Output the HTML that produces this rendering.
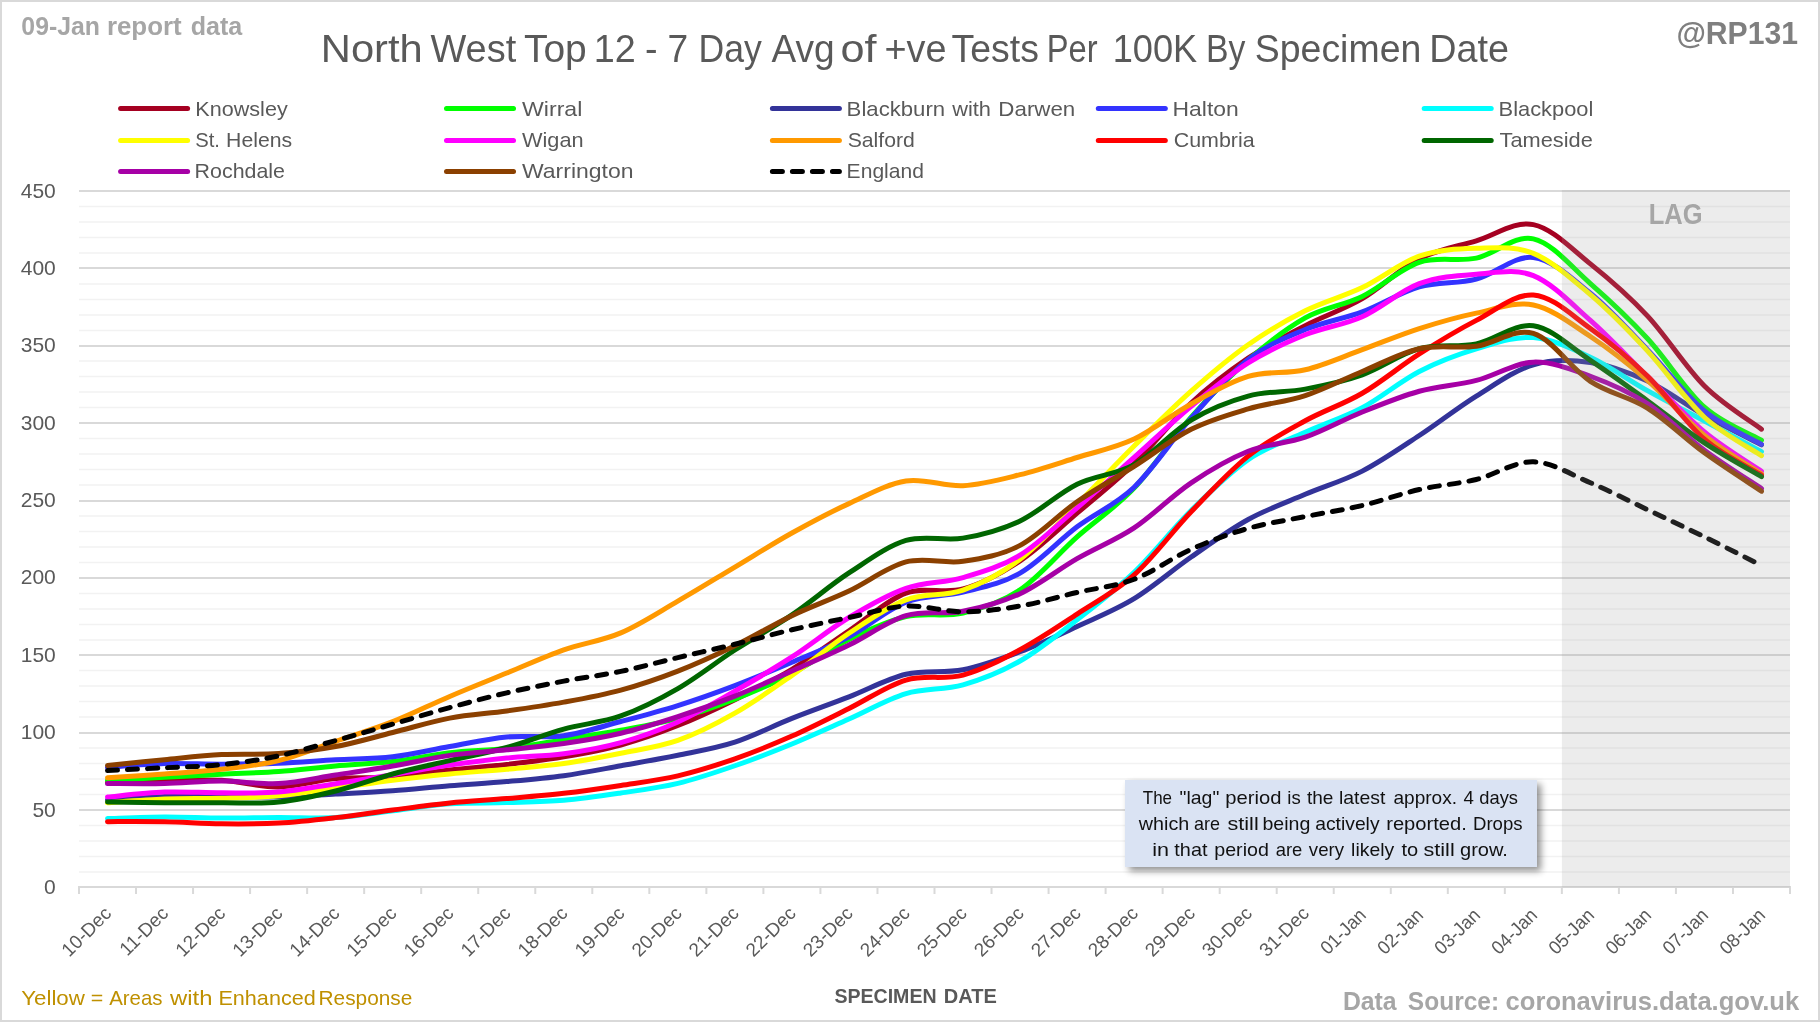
<!DOCTYPE html>
<html><head><meta charset="utf-8"><title>North West Top 12</title>
<style>html,body{margin:0;padding:0;background:#fff;}body{width:1820px;height:1022px;overflow:hidden;font-family:"Liberation Sans",sans-serif;}svg{display:block;}text{font-family:"Liberation Sans",sans-serif;}</style>
</head><body>
<svg style="will-change:transform" width="1820" height="1022" viewBox="0 0 1820 1022">
<defs><filter id="sh" x="-10%" y="-30%" width="125%" height="170%"><feGaussianBlur in="SourceAlpha" stdDeviation="3.8"/><feOffset dx="4" dy="4" result="o"/><feComponentTransfer><feFuncA type="linear" slope="0.43"/></feComponentTransfer><feMerge><feMergeNode/><feMergeNode in="SourceGraphic"/></feMerge></filter></defs>
<rect x="0" y="0" width="1820" height="1022" fill="#D9D9D9"/>
<rect x="2" y="2" width="1816" height="1018" fill="#FFFFFF"/>
<line x1="79.0" y1="872.00" x2="1790.0" y2="872.00" stroke="#F2F2F2" stroke-width="1.5"/>
<line x1="79.0" y1="856.50" x2="1790.0" y2="856.50" stroke="#F2F2F2" stroke-width="1.5"/>
<line x1="79.0" y1="841.00" x2="1790.0" y2="841.00" stroke="#F2F2F2" stroke-width="1.5"/>
<line x1="79.0" y1="825.50" x2="1790.0" y2="825.50" stroke="#F2F2F2" stroke-width="1.5"/>
<line x1="79.0" y1="794.50" x2="1790.0" y2="794.50" stroke="#F2F2F2" stroke-width="1.5"/>
<line x1="79.0" y1="779.00" x2="1790.0" y2="779.00" stroke="#F2F2F2" stroke-width="1.5"/>
<line x1="79.0" y1="763.50" x2="1790.0" y2="763.50" stroke="#F2F2F2" stroke-width="1.5"/>
<line x1="79.0" y1="748.00" x2="1790.0" y2="748.00" stroke="#F2F2F2" stroke-width="1.5"/>
<line x1="79.0" y1="717.00" x2="1790.0" y2="717.00" stroke="#F2F2F2" stroke-width="1.5"/>
<line x1="79.0" y1="701.50" x2="1790.0" y2="701.50" stroke="#F2F2F2" stroke-width="1.5"/>
<line x1="79.0" y1="686.00" x2="1790.0" y2="686.00" stroke="#F2F2F2" stroke-width="1.5"/>
<line x1="79.0" y1="670.50" x2="1790.0" y2="670.50" stroke="#F2F2F2" stroke-width="1.5"/>
<line x1="79.0" y1="640.00" x2="1790.0" y2="640.00" stroke="#F2F2F2" stroke-width="1.5"/>
<line x1="79.0" y1="624.50" x2="1790.0" y2="624.50" stroke="#F2F2F2" stroke-width="1.5"/>
<line x1="79.0" y1="609.00" x2="1790.0" y2="609.00" stroke="#F2F2F2" stroke-width="1.5"/>
<line x1="79.0" y1="593.50" x2="1790.0" y2="593.50" stroke="#F2F2F2" stroke-width="1.5"/>
<line x1="79.0" y1="562.50" x2="1790.0" y2="562.50" stroke="#F2F2F2" stroke-width="1.5"/>
<line x1="79.0" y1="547.00" x2="1790.0" y2="547.00" stroke="#F2F2F2" stroke-width="1.5"/>
<line x1="79.0" y1="531.50" x2="1790.0" y2="531.50" stroke="#F2F2F2" stroke-width="1.5"/>
<line x1="79.0" y1="516.00" x2="1790.0" y2="516.00" stroke="#F2F2F2" stroke-width="1.5"/>
<line x1="79.0" y1="485.00" x2="1790.0" y2="485.00" stroke="#F2F2F2" stroke-width="1.5"/>
<line x1="79.0" y1="469.50" x2="1790.0" y2="469.50" stroke="#F2F2F2" stroke-width="1.5"/>
<line x1="79.0" y1="454.00" x2="1790.0" y2="454.00" stroke="#F2F2F2" stroke-width="1.5"/>
<line x1="79.0" y1="438.50" x2="1790.0" y2="438.50" stroke="#F2F2F2" stroke-width="1.5"/>
<line x1="79.0" y1="407.50" x2="1790.0" y2="407.50" stroke="#F2F2F2" stroke-width="1.5"/>
<line x1="79.0" y1="392.00" x2="1790.0" y2="392.00" stroke="#F2F2F2" stroke-width="1.5"/>
<line x1="79.0" y1="376.50" x2="1790.0" y2="376.50" stroke="#F2F2F2" stroke-width="1.5"/>
<line x1="79.0" y1="361.00" x2="1790.0" y2="361.00" stroke="#F2F2F2" stroke-width="1.5"/>
<line x1="79.0" y1="330.50" x2="1790.0" y2="330.50" stroke="#F2F2F2" stroke-width="1.5"/>
<line x1="79.0" y1="315.00" x2="1790.0" y2="315.00" stroke="#F2F2F2" stroke-width="1.5"/>
<line x1="79.0" y1="299.50" x2="1790.0" y2="299.50" stroke="#F2F2F2" stroke-width="1.5"/>
<line x1="79.0" y1="284.00" x2="1790.0" y2="284.00" stroke="#F2F2F2" stroke-width="1.5"/>
<line x1="79.0" y1="253.00" x2="1790.0" y2="253.00" stroke="#F2F2F2" stroke-width="1.5"/>
<line x1="79.0" y1="237.50" x2="1790.0" y2="237.50" stroke="#F2F2F2" stroke-width="1.5"/>
<line x1="79.0" y1="222.00" x2="1790.0" y2="222.00" stroke="#F2F2F2" stroke-width="1.5"/>
<line x1="79.0" y1="206.50" x2="1790.0" y2="206.50" stroke="#F2F2F2" stroke-width="1.5"/>
<line x1="79.0" y1="810.00" x2="1790.0" y2="810.00" stroke="#D9D9D9" stroke-width="2"/>
<line x1="79.0" y1="733.00" x2="1790.0" y2="733.00" stroke="#D9D9D9" stroke-width="2"/>
<line x1="79.0" y1="655.00" x2="1790.0" y2="655.00" stroke="#D9D9D9" stroke-width="2"/>
<line x1="79.0" y1="578.00" x2="1790.0" y2="578.00" stroke="#D9D9D9" stroke-width="2"/>
<line x1="79.0" y1="501.00" x2="1790.0" y2="501.00" stroke="#D9D9D9" stroke-width="2"/>
<line x1="79.0" y1="423.00" x2="1790.0" y2="423.00" stroke="#D9D9D9" stroke-width="2"/>
<line x1="79.0" y1="346.00" x2="1790.0" y2="346.00" stroke="#D9D9D9" stroke-width="2"/>
<line x1="79.0" y1="268.00" x2="1790.0" y2="268.00" stroke="#D9D9D9" stroke-width="2"/>
<line x1="79.0" y1="191.00" x2="1790.0" y2="191.00" stroke="#D9D9D9" stroke-width="2"/>
<line x1="79.0" y1="887.00" x2="1791.0" y2="887.00" stroke="#D9D9D9" stroke-width="2"/>
<line x1="79.00" y1="886.00" x2="79.00" y2="894.00" stroke="#D9D9D9" stroke-width="2"/>
<line x1="136.03" y1="886.00" x2="136.03" y2="894.00" stroke="#D9D9D9" stroke-width="2"/>
<line x1="193.07" y1="886.00" x2="193.07" y2="894.00" stroke="#D9D9D9" stroke-width="2"/>
<line x1="250.10" y1="886.00" x2="250.10" y2="894.00" stroke="#D9D9D9" stroke-width="2"/>
<line x1="307.13" y1="886.00" x2="307.13" y2="894.00" stroke="#D9D9D9" stroke-width="2"/>
<line x1="364.17" y1="886.00" x2="364.17" y2="894.00" stroke="#D9D9D9" stroke-width="2"/>
<line x1="421.20" y1="886.00" x2="421.20" y2="894.00" stroke="#D9D9D9" stroke-width="2"/>
<line x1="478.23" y1="886.00" x2="478.23" y2="894.00" stroke="#D9D9D9" stroke-width="2"/>
<line x1="535.27" y1="886.00" x2="535.27" y2="894.00" stroke="#D9D9D9" stroke-width="2"/>
<line x1="592.30" y1="886.00" x2="592.30" y2="894.00" stroke="#D9D9D9" stroke-width="2"/>
<line x1="649.33" y1="886.00" x2="649.33" y2="894.00" stroke="#D9D9D9" stroke-width="2"/>
<line x1="706.37" y1="886.00" x2="706.37" y2="894.00" stroke="#D9D9D9" stroke-width="2"/>
<line x1="763.40" y1="886.00" x2="763.40" y2="894.00" stroke="#D9D9D9" stroke-width="2"/>
<line x1="820.43" y1="886.00" x2="820.43" y2="894.00" stroke="#D9D9D9" stroke-width="2"/>
<line x1="877.47" y1="886.00" x2="877.47" y2="894.00" stroke="#D9D9D9" stroke-width="2"/>
<line x1="934.50" y1="886.00" x2="934.50" y2="894.00" stroke="#D9D9D9" stroke-width="2"/>
<line x1="991.53" y1="886.00" x2="991.53" y2="894.00" stroke="#D9D9D9" stroke-width="2"/>
<line x1="1048.57" y1="886.00" x2="1048.57" y2="894.00" stroke="#D9D9D9" stroke-width="2"/>
<line x1="1105.60" y1="886.00" x2="1105.60" y2="894.00" stroke="#D9D9D9" stroke-width="2"/>
<line x1="1162.63" y1="886.00" x2="1162.63" y2="894.00" stroke="#D9D9D9" stroke-width="2"/>
<line x1="1219.67" y1="886.00" x2="1219.67" y2="894.00" stroke="#D9D9D9" stroke-width="2"/>
<line x1="1276.70" y1="886.00" x2="1276.70" y2="894.00" stroke="#D9D9D9" stroke-width="2"/>
<line x1="1333.73" y1="886.00" x2="1333.73" y2="894.00" stroke="#D9D9D9" stroke-width="2"/>
<line x1="1390.77" y1="886.00" x2="1390.77" y2="894.00" stroke="#D9D9D9" stroke-width="2"/>
<line x1="1447.80" y1="886.00" x2="1447.80" y2="894.00" stroke="#D9D9D9" stroke-width="2"/>
<line x1="1504.83" y1="886.00" x2="1504.83" y2="894.00" stroke="#D9D9D9" stroke-width="2"/>
<line x1="1561.87" y1="886.00" x2="1561.87" y2="894.00" stroke="#D9D9D9" stroke-width="2"/>
<line x1="1618.90" y1="886.00" x2="1618.90" y2="894.00" stroke="#D9D9D9" stroke-width="2"/>
<line x1="1675.93" y1="886.00" x2="1675.93" y2="894.00" stroke="#D9D9D9" stroke-width="2"/>
<line x1="1732.97" y1="886.00" x2="1732.97" y2="894.00" stroke="#D9D9D9" stroke-width="2"/>
<line x1="1790.00" y1="886.00" x2="1790.00" y2="894.00" stroke="#D9D9D9" stroke-width="2"/>
<text x="55.8" y="894.00" text-anchor="end" font-size="21" fill="#595959">0</text>
<text x="55.8" y="816.62" text-anchor="end" font-size="21" fill="#595959">50</text>
<text x="55.8" y="739.24" text-anchor="end" font-size="21" fill="#595959">100</text>
<text x="55.8" y="661.87" text-anchor="end" font-size="21" fill="#595959">150</text>
<text x="55.8" y="584.49" text-anchor="end" font-size="21" fill="#595959">200</text>
<text x="55.8" y="507.11" text-anchor="end" font-size="21" fill="#595959">250</text>
<text x="55.8" y="429.73" text-anchor="end" font-size="21" fill="#595959">300</text>
<text x="55.8" y="352.36" text-anchor="end" font-size="21" fill="#595959">350</text>
<text x="55.8" y="274.98" text-anchor="end" font-size="21" fill="#595959">400</text>
<text x="55.8" y="197.60" text-anchor="end" font-size="21" fill="#595959">450</text>
<path d="M107.52,782.32 C117.02,782.04 145.54,780.95 164.55,780.62 C183.56,780.28 202.57,779.25 221.58,780.31 C240.59,781.37 259.61,787.25 278.62,786.96 C297.63,786.68 316.64,780.28 335.65,778.61 C354.66,776.93 373.67,778.35 392.68,776.90 C411.69,775.46 430.71,772.00 449.72,769.94 C468.73,767.88 487.74,766.72 506.75,764.52 C525.76,762.33 544.77,760.04 563.78,756.79 C582.79,753.54 601.81,750.23 620.82,745.02 C639.83,739.81 658.84,733.08 677.85,725.53 C696.86,717.97 715.87,709.04 734.88,699.68 C753.89,690.32 772.91,680.83 791.92,669.35 C810.93,657.87 829.94,643.53 848.95,630.82 C867.96,618.10 886.97,600.02 905.98,593.05 C924.99,586.09 944.01,594.40 963.02,589.03 C982.03,583.67 1001.04,573.50 1020.05,560.87 C1039.06,548.23 1058.07,529.40 1077.08,513.20 C1096.09,497.00 1115.11,482.04 1134.12,463.68 C1153.13,445.31 1172.14,420.61 1191.15,403.02 C1210.16,385.42 1229.17,371.03 1248.18,358.14 C1267.19,345.24 1286.21,335.54 1305.22,325.64 C1324.23,315.73 1343.24,309.85 1362.25,298.71 C1381.26,287.57 1400.27,268.43 1419.28,258.78 C1438.29,249.14 1457.31,246.53 1476.32,240.83 C1495.33,235.13 1514.34,220.74 1533.35,224.58 C1552.36,228.43 1571.37,248.67 1590.38,263.89 C1609.39,279.11 1628.41,295.54 1647.42,315.89 C1666.43,336.24 1685.44,367.11 1704.45,385.99 C1723.46,404.87 1751.98,421.97 1761.48,429.17" fill="none" stroke="#A50021" stroke-width="5" stroke-linecap="round" stroke-linejoin="round"/>
<path d="M107.52,780.31 C117.02,779.82 145.54,778.37 164.55,777.37 C183.56,776.36 202.57,775.25 221.58,774.27 C240.59,773.29 259.61,772.88 278.62,771.49 C297.63,770.10 316.64,767.57 335.65,765.92 C354.66,764.27 373.67,763.78 392.68,761.58 C411.69,759.39 430.71,754.96 449.72,752.76 C468.73,750.57 487.74,750.62 506.75,748.43 C525.76,746.24 544.77,742.63 563.78,739.61 C582.79,736.59 601.81,733.86 620.82,730.32 C639.83,726.79 658.84,723.62 677.85,718.41 C696.86,713.20 715.87,706.52 734.88,699.06 C753.89,691.61 772.91,683.61 791.92,673.68 C810.93,663.75 829.94,649.00 848.95,639.48 C867.96,629.96 886.97,620.99 905.98,616.58 C924.99,612.17 944.01,617.48 963.02,613.02 C982.03,608.56 1001.04,602.50 1020.05,589.81 C1039.06,577.12 1058.07,553.82 1077.08,536.88 C1096.09,519.93 1115.11,508.09 1134.12,488.13 C1153.13,468.17 1172.14,438.45 1191.15,417.10 C1210.16,395.74 1229.17,376.53 1248.18,359.99 C1267.19,343.46 1286.21,328.50 1305.22,317.90 C1324.23,307.30 1343.24,305.65 1362.25,296.39 C1381.26,287.13 1400.27,268.71 1419.28,262.34 C1438.29,255.97 1457.31,262.08 1476.32,258.16 C1495.33,254.24 1514.34,234.59 1533.35,238.82 C1552.36,243.05 1571.37,266.93 1590.38,283.54 C1609.39,300.15 1628.41,317.87 1647.42,338.48 C1666.43,359.09 1685.44,390.25 1704.45,407.19 C1723.46,424.14 1751.98,434.66 1761.48,440.16" fill="none" stroke="#00FF00" stroke-width="5" stroke-linecap="round" stroke-linejoin="round"/>
<path d="M107.52,799.96 C117.02,799.40 145.54,797.25 164.55,796.56 C183.56,795.86 202.57,795.71 221.58,795.78 C240.59,795.86 259.61,797.31 278.62,797.02 C297.63,796.74 316.64,795.14 335.65,794.08 C354.66,793.02 373.67,792.07 392.68,790.68 C411.69,789.28 430.71,787.25 449.72,785.73 C468.73,784.20 487.74,783.22 506.75,781.55 C525.76,779.87 544.77,778.30 563.78,775.67 C582.79,773.04 601.81,769.17 620.82,765.76 C639.83,762.36 658.84,759.19 677.85,755.24 C696.86,751.29 715.87,748.22 734.88,742.08 C753.89,735.95 772.91,725.94 791.92,718.41 C810.93,710.88 829.94,704.25 848.95,696.90 C867.96,689.55 886.97,678.82 905.98,674.30 C924.99,669.79 944.01,673.58 963.02,669.81 C982.03,666.05 1001.04,658.93 1020.05,651.71 C1039.06,644.49 1058.07,635.33 1077.08,626.48 C1096.09,617.64 1115.11,610.21 1134.12,598.63 C1153.13,587.05 1172.14,570.18 1191.15,557.00 C1210.16,543.82 1229.17,529.99 1248.18,519.55 C1267.19,509.10 1286.21,502.39 1305.22,494.32 C1324.23,486.25 1343.24,480.91 1362.25,471.11 C1381.26,461.31 1400.27,448.02 1419.28,435.51 C1438.29,423.00 1457.31,407.84 1476.32,396.05 C1495.33,384.26 1514.34,370.39 1533.35,364.79 C1552.36,359.19 1571.37,359.76 1590.38,362.47 C1609.39,365.18 1628.41,372.22 1647.42,381.04 C1666.43,389.86 1685.44,404.77 1704.45,415.40 C1723.46,426.02 1751.98,439.90 1761.48,444.80" fill="none" stroke="#333399" stroke-width="5" stroke-linecap="round" stroke-linejoin="round"/>
<path d="M107.52,767.46 C117.02,766.82 145.54,764.14 164.55,763.60 C183.56,763.05 202.57,764.29 221.58,764.21 C240.59,764.14 259.61,763.88 278.62,763.13 C297.63,762.38 316.64,760.78 335.65,759.73 C354.66,758.67 373.67,758.98 392.68,756.79 C411.69,754.59 430.71,749.87 449.72,746.57 C468.73,743.27 487.74,738.78 506.75,736.98 C525.76,735.17 544.77,738.32 563.78,735.74 C582.79,733.16 601.81,726.53 620.82,721.50 C639.83,716.47 658.84,711.55 677.85,705.56 C696.86,699.58 715.87,692.82 734.88,685.60 C753.89,678.38 772.91,670.36 791.92,662.23 C810.93,654.11 829.94,646.86 848.95,636.85 C867.96,626.84 886.97,609.64 905.98,602.19 C924.99,594.73 944.01,596.98 963.02,592.13 C982.03,587.28 1001.04,583.98 1020.05,573.09 C1039.06,562.21 1058.07,541.13 1077.08,526.82 C1096.09,512.50 1115.11,505.31 1134.12,487.20 C1153.13,469.10 1172.14,439.49 1191.15,418.18 C1210.16,396.88 1229.17,374.15 1248.18,359.37 C1267.19,344.59 1286.21,337.42 1305.22,329.51 C1324.23,321.59 1343.24,318.96 1362.25,311.86 C1381.26,304.77 1400.27,292.42 1419.28,286.95 C1438.29,281.48 1457.31,283.96 1476.32,279.06 C1495.33,274.16 1514.34,255.17 1533.35,257.54 C1552.36,259.92 1571.37,277.95 1590.38,293.29 C1609.39,308.64 1628.41,330.02 1647.42,349.62 C1666.43,369.23 1685.44,395.12 1704.45,410.91 C1723.46,426.69 1751.98,438.76 1761.48,444.33" fill="none" stroke="#3333FF" stroke-width="5" stroke-linecap="round" stroke-linejoin="round"/>
<path d="M107.52,818.53 C117.02,818.28 145.54,817.06 164.55,816.99 C183.56,816.91 202.57,817.99 221.58,818.07 C240.59,818.15 259.61,817.53 278.62,817.45 C297.63,817.37 316.64,818.71 335.65,817.61 C354.66,816.50 373.67,813.09 392.68,810.80 C411.69,808.50 430.71,805.20 449.72,803.83 C468.73,802.46 487.74,803.19 506.75,802.59 C525.76,802.00 544.77,801.87 563.78,800.27 C582.79,798.67 601.81,795.81 620.82,793.00 C639.83,790.19 658.84,787.94 677.85,783.40 C696.86,778.86 715.87,772.34 734.88,765.76 C753.89,759.19 772.91,751.73 791.92,743.94 C810.93,736.15 829.94,727.41 848.95,719.03 C867.96,710.64 886.97,699.35 905.98,693.65 C924.99,687.95 944.01,690.27 963.02,684.82 C982.03,679.38 1001.04,671.85 1020.05,660.99 C1039.06,650.13 1058.07,634.45 1077.08,619.67 C1096.09,604.89 1115.11,590.50 1134.12,572.32 C1153.13,554.13 1172.14,529.35 1191.15,510.57 C1210.16,491.79 1229.17,472.71 1248.18,459.66 C1267.19,446.60 1286.21,440.93 1305.22,432.26 C1324.23,423.60 1343.24,417.79 1362.25,407.66 C1381.26,397.52 1400.27,381.25 1419.28,371.44 C1438.29,361.64 1457.31,354.50 1476.32,348.85 C1495.33,343.20 1514.34,336.16 1533.35,337.55 C1552.36,338.95 1571.37,348.36 1590.38,357.21 C1609.39,366.05 1628.41,380.01 1647.42,390.63 C1666.43,401.26 1685.44,410.80 1704.45,420.97 C1723.46,431.13 1751.98,446.50 1761.48,451.61" fill="none" stroke="#00FFFF" stroke-width="5" stroke-linecap="round" stroke-linejoin="round"/>
<path d="M107.52,802.75 C117.02,802.13 145.54,799.78 164.55,799.03 C183.56,798.29 202.57,798.80 221.58,798.26 C240.59,797.72 259.61,797.44 278.62,795.78 C297.63,794.13 316.64,790.96 335.65,788.36 C354.66,785.75 373.67,782.55 392.68,780.15 C411.69,777.76 430.71,775.80 449.72,773.96 C468.73,772.13 487.74,770.92 506.75,769.17 C525.76,767.41 544.77,766.10 563.78,763.44 C582.79,760.78 601.81,757.07 620.82,753.23 C639.83,749.38 658.84,747.06 677.85,740.38 C696.86,733.70 715.87,723.98 734.88,713.15 C753.89,702.31 772.91,688.69 791.92,675.38 C810.93,662.08 829.94,645.88 848.95,633.29 C867.96,620.70 886.97,607.06 905.98,599.86 C924.99,592.67 944.01,596.87 963.02,590.11 C982.03,583.36 1001.04,573.61 1020.05,559.32 C1039.06,545.03 1058.07,523.26 1077.08,504.38 C1096.09,485.50 1115.11,464.92 1134.12,446.04 C1153.13,427.16 1172.14,407.99 1191.15,391.10 C1210.16,374.20 1229.17,358.06 1248.18,344.67 C1267.19,331.29 1286.21,320.30 1305.22,310.78 C1324.23,301.26 1343.24,296.67 1362.25,287.57 C1381.26,278.46 1400.27,262.70 1419.28,256.15 C1438.29,249.60 1457.31,248.72 1476.32,248.26 C1495.33,247.80 1514.34,245.63 1533.35,253.37 C1552.36,261.10 1571.37,278.44 1590.38,294.69 C1609.39,310.94 1628.41,330.43 1647.42,350.86 C1666.43,371.29 1685.44,399.79 1704.45,417.25 C1723.46,434.71 1751.98,449.24 1761.48,455.63" fill="none" stroke="#FFFF00" stroke-width="5" stroke-linecap="round" stroke-linejoin="round"/>
<path d="M107.52,797.02 C117.02,796.20 145.54,792.77 164.55,792.07 C183.56,791.37 202.57,792.84 221.58,792.84 C240.59,792.84 259.61,793.59 278.62,792.07 C297.63,790.55 316.64,786.60 335.65,783.71 C354.66,780.83 373.67,777.83 392.68,774.74 C411.69,771.64 430.71,767.93 449.72,765.14 C468.73,762.36 487.74,759.93 506.75,758.02 C525.76,756.12 544.77,756.27 563.78,753.69 C582.79,751.11 601.81,747.84 620.82,742.55 C639.83,737.26 658.84,730.53 677.85,721.97 C696.86,713.40 715.87,702.00 734.88,691.17 C753.89,680.34 772.91,669.25 791.92,656.97 C810.93,644.69 829.94,628.93 848.95,617.51 C867.96,606.08 886.97,595.07 905.98,588.41 C924.99,581.76 944.01,583.12 963.02,577.58 C982.03,572.03 1001.04,566.75 1020.05,555.14 C1039.06,543.53 1058.07,524.21 1077.08,507.94 C1096.09,491.66 1115.11,474.41 1134.12,457.49 C1153.13,440.57 1172.14,422.18 1191.15,406.42 C1210.16,390.66 1229.17,374.88 1248.18,362.93 C1267.19,350.99 1286.21,342.48 1305.22,334.77 C1324.23,327.06 1343.24,325.17 1362.25,316.66 C1381.26,308.15 1400.27,290.77 1419.28,283.70 C1438.29,276.63 1457.31,275.60 1476.32,274.26 C1495.33,272.92 1514.34,267.97 1533.35,275.65 C1552.36,283.34 1571.37,303.58 1590.38,320.38 C1609.39,337.17 1628.41,357.80 1647.42,376.40 C1666.43,394.99 1685.44,416.14 1704.45,431.95 C1723.46,447.77 1751.98,464.71 1761.48,471.26" fill="none" stroke="#FF00FF" stroke-width="5" stroke-linecap="round" stroke-linejoin="round"/>
<path d="M107.52,777.83 C117.02,777.19 145.54,775.38 164.55,773.96 C183.56,772.55 202.57,771.57 221.58,769.32 C240.59,767.08 259.61,765.17 278.62,760.50 C297.63,755.83 316.64,747.78 335.65,741.31 C354.66,734.84 373.67,729.14 392.68,721.66 C411.69,714.18 430.71,704.53 449.72,696.43 C468.73,688.33 487.74,680.83 506.75,673.06 C525.76,665.30 544.77,656.56 563.78,649.85 C582.79,643.14 601.81,640.95 620.82,632.83 C639.83,624.70 658.84,612.06 677.85,601.10 C696.86,590.14 715.87,578.40 734.88,567.06 C753.89,555.71 772.91,543.58 791.92,533.01 C810.93,522.43 829.94,512.27 848.95,503.61 C867.96,494.94 886.97,484.00 905.98,481.01 C924.99,478.02 944.01,486.71 963.02,485.65 C982.03,484.60 1001.04,479.36 1020.05,474.67 C1039.06,469.97 1058.07,463.42 1077.08,457.49 C1096.09,451.56 1115.11,448.00 1134.12,439.07 C1153.13,430.15 1172.14,414.39 1191.15,403.94 C1210.16,393.50 1229.17,382.10 1248.18,376.40 C1267.19,370.70 1286.21,374.20 1305.22,369.74 C1324.23,365.28 1343.24,356.49 1362.25,349.62 C1381.26,342.76 1400.27,334.66 1419.28,328.58 C1438.29,322.49 1457.31,317.02 1476.32,313.10 C1495.33,309.18 1514.34,301.16 1533.35,305.05 C1552.36,308.95 1571.37,323.91 1590.38,336.47 C1609.39,349.03 1628.41,363.91 1647.42,380.42 C1666.43,396.93 1685.44,419.94 1704.45,435.51 C1723.46,451.09 1751.98,467.50 1761.48,473.89" fill="none" stroke="#FF9900" stroke-width="5" stroke-linecap="round" stroke-linejoin="round"/>
<path d="M107.52,821.63 C117.02,821.65 145.54,821.42 164.55,821.78 C183.56,822.14 202.57,823.59 221.58,823.80 C240.59,824.00 259.61,824.05 278.62,823.02 C297.63,821.99 316.64,819.77 335.65,817.61 C354.66,815.44 373.67,812.45 392.68,810.02 C411.69,807.60 430.71,804.97 449.72,803.06 C468.73,801.15 487.74,800.20 506.75,798.57 C525.76,796.95 544.77,795.50 563.78,793.31 C582.79,791.12 601.81,788.33 620.82,785.42 C639.83,782.50 658.84,780.26 677.85,775.82 C696.86,771.38 715.87,765.43 734.88,758.80 C753.89,752.17 772.91,744.43 791.92,736.05 C810.93,727.67 829.94,717.84 848.95,708.50 C867.96,699.17 886.97,685.60 905.98,680.03 C924.99,674.46 944.01,680.13 963.02,675.08 C982.03,670.02 1001.04,659.86 1020.05,649.70 C1039.06,639.53 1058.07,626.56 1077.08,614.10 C1096.09,601.64 1115.11,592.00 1134.12,574.95 C1153.13,557.90 1172.14,531.62 1191.15,511.81 C1210.16,492.00 1229.17,471.26 1248.18,456.10 C1267.19,440.93 1286.21,431.28 1305.22,420.81 C1324.23,410.34 1343.24,404.41 1362.25,393.27 C1381.26,382.12 1400.27,366.11 1419.28,353.96 C1438.29,341.81 1457.31,330.20 1476.32,320.38 C1495.33,310.55 1514.34,293.65 1533.35,295.00 C1552.36,296.34 1571.37,314.93 1590.38,328.42 C1609.39,341.91 1628.41,357.47 1647.42,375.93 C1666.43,394.40 1685.44,422.69 1704.45,439.23 C1723.46,455.76 1751.98,469.15 1761.48,475.13" fill="none" stroke="#FF0000" stroke-width="5" stroke-linecap="round" stroke-linejoin="round"/>
<path d="M107.52,801.97 C117.02,802.10 145.54,802.62 164.55,802.75 C183.56,802.88 202.57,802.88 221.58,802.75 C240.59,802.62 259.61,803.94 278.62,801.97 C297.63,800.01 316.64,795.66 335.65,790.99 C354.66,786.32 373.67,779.02 392.68,773.96 C411.69,768.91 430.71,765.07 449.72,760.66 C468.73,756.24 487.74,752.76 506.75,747.50 C525.76,742.24 544.77,734.35 563.78,729.09 C582.79,723.82 601.81,722.69 620.82,715.93 C639.83,709.17 658.84,699.53 677.85,688.54 C696.86,677.55 715.87,662.28 734.88,650.00 C753.89,637.73 772.91,627.72 791.92,614.88 C810.93,602.03 829.94,585.34 848.95,572.94 C867.96,560.53 886.97,546.24 905.98,540.44 C924.99,534.63 944.01,541.37 963.02,538.12 C982.03,534.87 1001.04,529.91 1020.05,520.94 C1039.06,511.96 1058.07,493.65 1077.08,484.26 C1096.09,474.87 1115.11,475.31 1134.12,464.61 C1153.13,453.90 1172.14,431.46 1191.15,420.04 C1210.16,408.61 1229.17,401.21 1248.18,396.05 C1267.19,390.89 1286.21,392.62 1305.22,389.09 C1324.23,385.55 1343.24,381.58 1362.25,374.85 C1381.26,368.12 1400.27,353.85 1419.28,348.70 C1438.29,343.54 1457.31,347.72 1476.32,343.90 C1495.33,340.08 1514.34,323.06 1533.35,325.79 C1552.36,328.53 1571.37,347.82 1590.38,360.30 C1609.39,372.79 1628.41,386.92 1647.42,400.69 C1666.43,414.47 1685.44,430.28 1704.45,442.94 C1723.46,455.61 1751.98,471.06 1761.48,476.68" fill="none" stroke="#006600" stroke-width="5" stroke-linecap="round" stroke-linejoin="round"/>
<path d="M107.52,783.56 C117.02,783.56 145.54,783.97 164.55,783.56 C183.56,783.15 202.57,781.08 221.58,781.08 C240.59,781.08 259.61,784.56 278.62,783.56 C297.63,782.55 316.64,777.96 335.65,775.05 C354.66,772.13 373.67,769.35 392.68,766.07 C411.69,762.80 430.71,758.10 449.72,755.39 C468.73,752.69 487.74,751.81 506.75,749.82 C525.76,747.84 544.77,746.24 563.78,743.48 C582.79,740.72 601.81,737.73 620.82,733.26 C639.83,728.80 658.84,722.89 677.85,716.70 C696.86,710.51 715.87,703.73 734.88,696.12 C753.89,688.51 772.91,679.56 791.92,671.05 C810.93,662.54 829.94,654.29 848.95,645.05 C867.96,635.82 886.97,621.27 905.98,615.65 C924.99,610.03 944.01,614.98 963.02,611.32 C982.03,607.65 1001.04,602.44 1020.05,593.67 C1039.06,584.90 1058.07,569.66 1077.08,558.70 C1096.09,547.74 1115.11,540.54 1134.12,527.90 C1153.13,515.26 1172.14,495.64 1191.15,482.87 C1210.16,470.10 1229.17,458.91 1248.18,451.30 C1267.19,443.69 1286.21,443.77 1305.22,437.22 C1324.23,430.66 1343.24,419.65 1362.25,411.99 C1381.26,404.33 1400.27,396.52 1419.28,391.25 C1438.29,385.99 1457.31,385.27 1476.32,380.42 C1495.33,375.57 1514.34,362.86 1533.35,362.16 C1552.36,361.46 1571.37,369.33 1590.38,376.24 C1609.39,383.15 1628.41,391.31 1647.42,403.63 C1666.43,415.96 1685.44,436.06 1704.45,450.22 C1723.46,464.38 1751.98,482.20 1761.48,488.59" fill="none" stroke="#A600A6" stroke-width="5" stroke-linecap="round" stroke-linejoin="round"/>
<path d="M107.52,765.61 C117.02,764.63 145.54,761.56 164.55,759.73 C183.56,757.90 202.57,755.65 221.58,754.62 C240.59,753.59 259.61,754.88 278.62,753.54 C297.63,752.20 316.64,750.08 335.65,746.57 C354.66,743.06 373.67,737.24 392.68,732.49 C411.69,727.74 430.71,721.68 449.72,718.10 C468.73,714.51 487.74,713.64 506.75,710.98 C525.76,708.32 544.77,705.64 563.78,702.16 C582.79,698.68 601.81,695.27 620.82,690.09 C639.83,684.90 658.84,678.45 677.85,671.05 C696.86,663.65 715.87,654.91 734.88,645.67 C753.89,636.44 772.91,624.75 791.92,615.65 C810.93,606.54 829.94,599.99 848.95,591.04 C867.96,582.09 886.97,566.90 905.98,561.95 C924.99,557.00 944.01,564.09 963.02,561.33 C982.03,558.57 1001.04,555.32 1020.05,545.39 C1039.06,535.46 1058.07,514.93 1077.08,501.75 C1096.09,488.57 1115.11,478.38 1134.12,466.31 C1153.13,454.24 1172.14,438.89 1191.15,429.32 C1210.16,419.75 1229.17,414.52 1248.18,408.90 C1267.19,403.27 1286.21,401.83 1305.22,395.59 C1324.23,389.35 1343.24,379.26 1362.25,371.44 C1381.26,363.63 1400.27,352.90 1419.28,348.70 C1438.29,344.49 1457.31,348.77 1476.32,346.22 C1495.33,343.67 1514.34,327.52 1533.35,333.38 C1552.36,339.23 1571.37,368.89 1590.38,381.35 C1609.39,393.81 1628.41,396.21 1647.42,408.12 C1666.43,420.04 1685.44,439.00 1704.45,452.85 C1723.46,466.70 1751.98,484.83 1761.48,491.23" fill="none" stroke="#8B4000" stroke-width="5" stroke-linecap="round" stroke-linejoin="round"/>
<path d="M107.52,770.56 C117.02,770.10 145.54,768.75 164.55,767.77 C183.56,766.79 202.57,766.66 221.58,764.68 C240.59,762.69 259.61,759.88 278.62,755.86 C297.63,751.83 316.64,745.82 335.65,740.54 C354.66,735.25 373.67,729.63 392.68,724.13 C411.69,718.64 430.71,712.78 449.72,707.57 C468.73,702.36 487.74,697.28 506.75,692.87 C525.76,688.46 544.77,684.70 563.78,681.11 C582.79,677.53 601.81,675.28 620.82,671.36 C639.83,667.44 658.84,662.10 677.85,657.59 C696.86,653.07 715.87,648.92 734.88,644.28 C753.89,639.64 772.91,634.19 791.92,629.73 C810.93,625.27 829.94,621.45 848.95,617.51 C867.96,613.56 886.97,607.01 905.98,606.05 C924.99,605.10 944.01,611.78 963.02,611.78 C982.03,611.78 1001.04,609.28 1020.05,606.05 C1039.06,602.83 1058.07,596.90 1077.08,592.44 C1096.09,587.97 1115.11,586.48 1134.12,579.28 C1153.13,572.09 1172.14,557.74 1191.15,549.26 C1210.16,540.77 1229.17,533.81 1248.18,528.37 C1267.19,522.92 1286.21,520.42 1305.22,516.61 C1324.23,512.79 1343.24,509.98 1362.25,505.46 C1381.26,500.95 1400.27,493.86 1419.28,489.52 C1438.29,485.19 1457.31,484.08 1476.32,479.46 C1495.33,474.85 1514.34,461.28 1533.35,461.82 C1552.36,462.36 1571.37,474.74 1590.38,482.71 C1609.39,490.68 1628.41,500.61 1647.42,509.64 C1666.43,518.67 1685.44,527.57 1704.45,536.88 C1723.46,546.19 1751.98,560.74 1761.48,565.51" fill="none" stroke="#000000" stroke-width="5" stroke-linecap="round" stroke-linejoin="round" stroke-dasharray="10 10.01"/>
<rect x="1561.87" y="190.00" width="228.13" height="697.40" fill="#A0A0A0" fill-opacity="0.2"/>
<text x="1648.8" y="223.5" font-size="28.6" font-weight="bold" fill="#A6A6A6" textLength="53.8" lengthAdjust="spacingAndGlyphs">LAG</text>
<rect x="1125" y="780" width="412" height="87" fill="#DAE3F3" filter="url(#sh)"/>
<line x1="120.6" y1="108.5" x2="187.6" y2="108.5" stroke="#A50021" stroke-width="5" stroke-linecap="round"/>
<line x1="446.5" y1="108.5" x2="513.5" y2="108.5" stroke="#00FF00" stroke-width="5" stroke-linecap="round"/>
<line x1="772.4" y1="108.5" x2="839.4" y2="108.5" stroke="#333399" stroke-width="5" stroke-linecap="round"/>
<line x1="1098.3" y1="108.5" x2="1165.3" y2="108.5" stroke="#3333FF" stroke-width="5" stroke-linecap="round"/>
<line x1="1424.2" y1="108.5" x2="1491.2" y2="108.5" stroke="#00FFFF" stroke-width="5" stroke-linecap="round"/>
<line x1="120.6" y1="140.5" x2="187.6" y2="140.5" stroke="#FFFF00" stroke-width="5" stroke-linecap="round"/>
<line x1="446.5" y1="140.5" x2="513.5" y2="140.5" stroke="#FF00FF" stroke-width="5" stroke-linecap="round"/>
<line x1="772.4" y1="140.5" x2="839.4" y2="140.5" stroke="#FF9900" stroke-width="5" stroke-linecap="round"/>
<line x1="1098.3" y1="140.5" x2="1165.3" y2="140.5" stroke="#FF0000" stroke-width="5" stroke-linecap="round"/>
<line x1="1424.2" y1="140.5" x2="1491.2" y2="140.5" stroke="#006600" stroke-width="5" stroke-linecap="round"/>
<line x1="120.6" y1="171.5" x2="187.6" y2="171.5" stroke="#A600A6" stroke-width="5" stroke-linecap="round"/>
<line x1="446.5" y1="171.5" x2="513.5" y2="171.5" stroke="#8B4000" stroke-width="5" stroke-linecap="round"/>
<line x1="772.4" y1="171.5" x2="839.4" y2="171.5" stroke="#000" stroke-width="5" stroke-linecap="round" stroke-dasharray="10 10.01"/>
<text transform="translate(112.52,914.50) rotate(-45)" text-anchor="end" font-size="19" fill="#595959">10-Dec</text>
<text transform="translate(169.55,914.50) rotate(-45)" text-anchor="end" font-size="19" fill="#595959">11-Dec</text>
<text transform="translate(226.58,914.50) rotate(-45)" text-anchor="end" font-size="19" fill="#595959">12-Dec</text>
<text transform="translate(283.62,914.50) rotate(-45)" text-anchor="end" font-size="19" fill="#595959">13-Dec</text>
<text transform="translate(340.65,914.50) rotate(-45)" text-anchor="end" font-size="19" fill="#595959">14-Dec</text>
<text transform="translate(397.68,914.50) rotate(-45)" text-anchor="end" font-size="19" fill="#595959">15-Dec</text>
<text transform="translate(454.72,914.50) rotate(-45)" text-anchor="end" font-size="19" fill="#595959">16-Dec</text>
<text transform="translate(511.75,914.50) rotate(-45)" text-anchor="end" font-size="19" fill="#595959">17-Dec</text>
<text transform="translate(568.78,914.50) rotate(-45)" text-anchor="end" font-size="19" fill="#595959">18-Dec</text>
<text transform="translate(625.82,914.50) rotate(-45)" text-anchor="end" font-size="19" fill="#595959">19-Dec</text>
<text transform="translate(682.85,914.50) rotate(-45)" text-anchor="end" font-size="19" fill="#595959">20-Dec</text>
<text transform="translate(739.88,914.50) rotate(-45)" text-anchor="end" font-size="19" fill="#595959">21-Dec</text>
<text transform="translate(796.92,914.50) rotate(-45)" text-anchor="end" font-size="19" fill="#595959">22-Dec</text>
<text transform="translate(853.95,914.50) rotate(-45)" text-anchor="end" font-size="19" fill="#595959">23-Dec</text>
<text transform="translate(910.98,914.50) rotate(-45)" text-anchor="end" font-size="19" fill="#595959">24-Dec</text>
<text transform="translate(968.02,914.50) rotate(-45)" text-anchor="end" font-size="19" fill="#595959">25-Dec</text>
<text transform="translate(1025.05,914.50) rotate(-45)" text-anchor="end" font-size="19" fill="#595959">26-Dec</text>
<text transform="translate(1082.08,914.50) rotate(-45)" text-anchor="end" font-size="19" fill="#595959">27-Dec</text>
<text transform="translate(1139.12,914.50) rotate(-45)" text-anchor="end" font-size="19" fill="#595959">28-Dec</text>
<text transform="translate(1196.15,914.50) rotate(-45)" text-anchor="end" font-size="19" fill="#595959">29-Dec</text>
<text transform="translate(1253.18,914.50) rotate(-45)" text-anchor="end" font-size="19" fill="#595959">30-Dec</text>
<text transform="translate(1310.22,914.50) rotate(-45)" text-anchor="end" font-size="19" fill="#595959">31-Dec</text>
<text transform="translate(1367.25,916.30) rotate(-45)" text-anchor="end" font-size="19" fill="#595959" textLength="55.5" lengthAdjust="spacingAndGlyphs">01-Jan</text>
<text transform="translate(1424.28,916.30) rotate(-45)" text-anchor="end" font-size="19" fill="#595959" textLength="55.5" lengthAdjust="spacingAndGlyphs">02-Jan</text>
<text transform="translate(1481.32,916.30) rotate(-45)" text-anchor="end" font-size="19" fill="#595959" textLength="55.5" lengthAdjust="spacingAndGlyphs">03-Jan</text>
<text transform="translate(1538.35,916.30) rotate(-45)" text-anchor="end" font-size="19" fill="#595959" textLength="55.5" lengthAdjust="spacingAndGlyphs">04-Jan</text>
<text transform="translate(1595.38,916.30) rotate(-45)" text-anchor="end" font-size="19" fill="#595959" textLength="55.5" lengthAdjust="spacingAndGlyphs">05-Jan</text>
<text transform="translate(1652.42,916.30) rotate(-45)" text-anchor="end" font-size="19" fill="#595959" textLength="55.5" lengthAdjust="spacingAndGlyphs">06-Jan</text>
<text transform="translate(1709.45,916.30) rotate(-45)" text-anchor="end" font-size="19" fill="#595959" textLength="55.5" lengthAdjust="spacingAndGlyphs">07-Jan</text>
<text transform="translate(1766.48,916.30) rotate(-45)" text-anchor="end" font-size="19" fill="#595959" textLength="55.5" lengthAdjust="spacingAndGlyphs">08-Jan</text>
<text x="320.84" y="61.80" font-size="38.2" font-weight="normal" fill="#595959" textLength="101.91" lengthAdjust="spacingAndGlyphs">North</text>
<text x="430.50" y="61.80" font-size="38.2" font-weight="normal" fill="#595959" textLength="85.72" lengthAdjust="spacingAndGlyphs">West</text>
<text x="524.00" y="61.80" font-size="38.2" font-weight="normal" fill="#595959" textLength="62.76" lengthAdjust="spacingAndGlyphs">Top</text>
<text x="593.71" y="61.80" font-size="38.2" font-weight="normal" fill="#595959" textLength="42.04" lengthAdjust="spacingAndGlyphs">12</text>
<text x="644.88" y="61.80" font-size="38.2" font-weight="normal" fill="#595959" textLength="12.55" lengthAdjust="spacingAndGlyphs">-</text>
<text x="667.43" y="61.80" font-size="38.2" font-weight="normal" fill="#595959" textLength="20.69" lengthAdjust="spacingAndGlyphs">7</text>
<text x="698.58" y="61.80" font-size="38.2" font-weight="normal" fill="#595959" textLength="63.34" lengthAdjust="spacingAndGlyphs">Day</text>
<text x="771.51" y="61.80" font-size="38.2" font-weight="normal" fill="#595959" textLength="63.21" lengthAdjust="spacingAndGlyphs">Avg</text>
<text x="840.53" y="61.80" font-size="38.2" font-weight="normal" fill="#595959" textLength="35.99" lengthAdjust="spacingAndGlyphs">of</text>
<text x="884.44" y="61.80" font-size="38.2" font-weight="normal" fill="#595959" textLength="62.03" lengthAdjust="spacingAndGlyphs">+ve</text>
<text x="951.57" y="61.80" font-size="38.2" font-weight="normal" fill="#595959" textLength="87.34" lengthAdjust="spacingAndGlyphs">Tests</text>
<text x="1046.69" y="61.80" font-size="38.2" font-weight="normal" fill="#595959" textLength="50.86" lengthAdjust="spacingAndGlyphs">Per</text>
<text x="1112.71" y="61.80" font-size="38.2" font-weight="normal" fill="#595959" textLength="84.46" lengthAdjust="spacingAndGlyphs">100K</text>
<text x="1205.93" y="61.80" font-size="38.2" font-weight="normal" fill="#595959" textLength="39.39" lengthAdjust="spacingAndGlyphs">By</text>
<text x="1254.74" y="61.80" font-size="38.2" font-weight="normal" fill="#595959" textLength="166.57" lengthAdjust="spacingAndGlyphs">Specimen</text>
<text x="1429.28" y="61.80" font-size="38.2" font-weight="normal" fill="#595959" textLength="79.69" lengthAdjust="spacingAndGlyphs">Date</text>
<text x="21.36" y="34.90" font-size="25.3" font-weight="bold" fill="#A6A6A6" textLength="78.56" lengthAdjust="spacingAndGlyphs">09-Jan</text>
<text x="106.90" y="34.90" font-size="25.3" font-weight="bold" fill="#A6A6A6" textLength="74.82" lengthAdjust="spacingAndGlyphs">report</text>
<text x="190.70" y="34.90" font-size="25.3" font-weight="bold" fill="#A6A6A6" textLength="51.51" lengthAdjust="spacingAndGlyphs">data</text>
<text x="1676.45" y="43.60" font-size="32" font-weight="bold" fill="#7F7F7F" textLength="121.55" lengthAdjust="spacingAndGlyphs">@RP131</text>
<text x="834.39" y="1002.60" font-size="21" font-weight="bold" fill="#595959" textLength="102.23" lengthAdjust="spacingAndGlyphs">SPECIMEN</text>
<text x="943.69" y="1002.60" font-size="21" font-weight="bold" fill="#595959" textLength="53.06" lengthAdjust="spacingAndGlyphs">DATE</text>
<text x="21.21" y="1005.00" font-size="21" font-weight="normal" fill="#BF9000" textLength="63.71" lengthAdjust="spacingAndGlyphs">Yellow</text>
<text x="90.89" y="1005.00" font-size="21" font-weight="normal" fill="#BF9000" textLength="12.48" lengthAdjust="spacingAndGlyphs">=</text>
<text x="109.20" y="1005.00" font-size="21" font-weight="normal" fill="#BF9000" textLength="53.32" lengthAdjust="spacingAndGlyphs">Areas</text>
<text x="170.00" y="1005.00" font-size="21" font-weight="normal" fill="#BF9000" textLength="42.45" lengthAdjust="spacingAndGlyphs">with</text>
<text x="218.44" y="1005.00" font-size="21" font-weight="normal" fill="#BF9000" textLength="97.29" lengthAdjust="spacingAndGlyphs">Enhanced</text>
<text x="318.55" y="1005.00" font-size="21" font-weight="normal" fill="#BF9000" textLength="93.79" lengthAdjust="spacingAndGlyphs">Response</text>
<text x="1342.96" y="1010.40" font-size="26.7" font-weight="bold" fill="#A6A6A6" textLength="53.71" lengthAdjust="spacingAndGlyphs">Data</text>
<text x="1407.87" y="1010.40" font-size="26.7" font-weight="bold" fill="#A6A6A6" textLength="91.26" lengthAdjust="spacingAndGlyphs">Source:</text>
<text x="1505.60" y="1010.40" font-size="26.7" font-weight="bold" fill="#A6A6A6" textLength="293.60" lengthAdjust="spacingAndGlyphs">coronavirus.data.gov.uk</text>
<text x="1142.77" y="803.50" font-size="18.4" font-weight="normal" fill="#111111" textLength="29.27" lengthAdjust="spacingAndGlyphs">The</text>
<text x="1179.56" y="803.50" font-size="18.4" font-weight="normal" fill="#111111" textLength="39.78" lengthAdjust="spacingAndGlyphs">&quot;lag&quot;</text>
<text x="1225.35" y="803.50" font-size="18.4" font-weight="normal" fill="#111111" textLength="56.10" lengthAdjust="spacingAndGlyphs">period</text>
<text x="1287.33" y="803.50" font-size="18.4" font-weight="normal" fill="#111111" textLength="13.38" lengthAdjust="spacingAndGlyphs">is</text>
<text x="1307.00" y="803.50" font-size="18.4" font-weight="normal" fill="#111111" textLength="26.45" lengthAdjust="spacingAndGlyphs">the</text>
<text x="1339.00" y="803.50" font-size="18.4" font-weight="normal" fill="#111111" textLength="46.43" lengthAdjust="spacingAndGlyphs">latest</text>
<text x="1393.49" y="803.50" font-size="18.4" font-weight="normal" fill="#111111" textLength="63.53" lengthAdjust="spacingAndGlyphs">approx.</text>
<text x="1463.50" y="803.50" font-size="18.4" font-weight="normal" fill="#111111" textLength="10.38" lengthAdjust="spacingAndGlyphs">4</text>
<text x="1479.29" y="803.50" font-size="18.4" font-weight="normal" fill="#111111" textLength="38.71" lengthAdjust="spacingAndGlyphs">days</text>
<text x="1138.81" y="829.90" font-size="18.4" font-weight="normal" fill="#111111" textLength="50.43" lengthAdjust="spacingAndGlyphs">which</text>
<text x="1194.11" y="829.90" font-size="18.4" font-weight="normal" fill="#111111" textLength="25.99" lengthAdjust="spacingAndGlyphs">are</text>
<text x="1227.53" y="829.90" font-size="18.4" font-weight="normal" fill="#111111" textLength="31.18" lengthAdjust="spacingAndGlyphs">still</text>
<text x="1262.48" y="829.90" font-size="18.4" font-weight="normal" fill="#111111" textLength="47.88" lengthAdjust="spacingAndGlyphs">being</text>
<text x="1315.27" y="829.90" font-size="18.4" font-weight="normal" fill="#111111" textLength="64.25" lengthAdjust="spacingAndGlyphs">actively</text>
<text x="1386.23" y="829.90" font-size="18.4" font-weight="normal" fill="#111111" textLength="80.60" lengthAdjust="spacingAndGlyphs">reported.</text>
<text x="1472.98" y="829.90" font-size="18.4" font-weight="normal" fill="#111111" textLength="49.57" lengthAdjust="spacingAndGlyphs">Drops</text>
<text x="1152.34" y="855.50" font-size="18.4" font-weight="normal" fill="#111111" textLength="16.81" lengthAdjust="spacingAndGlyphs">in</text>
<text x="1174.35" y="855.50" font-size="18.4" font-weight="normal" fill="#111111" textLength="33.09" lengthAdjust="spacingAndGlyphs">that</text>
<text x="1214.24" y="855.50" font-size="18.4" font-weight="normal" fill="#111111" textLength="54.62" lengthAdjust="spacingAndGlyphs">period</text>
<text x="1275.75" y="855.50" font-size="18.4" font-weight="normal" fill="#111111" textLength="26.60" lengthAdjust="spacingAndGlyphs">are</text>
<text x="1308.89" y="855.50" font-size="18.4" font-weight="normal" fill="#111111" textLength="35.22" lengthAdjust="spacingAndGlyphs">very</text>
<text x="1351.08" y="855.50" font-size="18.4" font-weight="normal" fill="#111111" textLength="43.14" lengthAdjust="spacingAndGlyphs">likely</text>
<text x="1401.55" y="855.50" font-size="18.4" font-weight="normal" fill="#111111" textLength="16.72" lengthAdjust="spacingAndGlyphs">to</text>
<text x="1423.52" y="855.50" font-size="18.4" font-weight="normal" fill="#111111" textLength="31.18" lengthAdjust="spacingAndGlyphs">still</text>
<text x="1460.00" y="855.50" font-size="18.4" font-weight="normal" fill="#111111" textLength="47.93" lengthAdjust="spacingAndGlyphs">grow.</text>
<text x="195.36" y="115.60" font-size="20.6" font-weight="normal" fill="#595959" textLength="92.35" lengthAdjust="spacingAndGlyphs">Knowsley</text>
<text x="522.00" y="115.60" font-size="20.6" font-weight="normal" fill="#595959" textLength="60.35" lengthAdjust="spacingAndGlyphs">Wirral</text>
<text x="846.64" y="115.60" font-size="20.6" font-weight="normal" fill="#595959" textLength="98.49" lengthAdjust="spacingAndGlyphs">Blackburn</text>
<text x="952.18" y="115.60" font-size="20.6" font-weight="normal" fill="#595959" textLength="38.81" lengthAdjust="spacingAndGlyphs">with</text>
<text x="998.37" y="115.60" font-size="20.6" font-weight="normal" fill="#595959" textLength="76.91" lengthAdjust="spacingAndGlyphs">Darwen</text>
<text x="1172.59" y="115.60" font-size="20.6" font-weight="normal" fill="#595959" textLength="66.19" lengthAdjust="spacingAndGlyphs">Halton</text>
<text x="1498.64" y="115.60" font-size="20.6" font-weight="normal" fill="#595959" textLength="94.67" lengthAdjust="spacingAndGlyphs">Blackpool</text>
<text x="195.22" y="146.80" font-size="20.6" font-weight="normal" fill="#595959" textLength="24.73" lengthAdjust="spacingAndGlyphs">St.</text>
<text x="226.10" y="146.80" font-size="20.6" font-weight="normal" fill="#595959" textLength="66.04" lengthAdjust="spacingAndGlyphs">Helens</text>
<text x="522.00" y="146.80" font-size="20.6" font-weight="normal" fill="#595959" textLength="61.64" lengthAdjust="spacingAndGlyphs">Wigan</text>
<text x="847.67" y="146.80" font-size="20.6" font-weight="normal" fill="#595959" textLength="67.17" lengthAdjust="spacingAndGlyphs">Salford</text>
<text x="1173.69" y="146.80" font-size="20.6" font-weight="normal" fill="#595959" textLength="80.92" lengthAdjust="spacingAndGlyphs">Cumbria</text>
<text x="1499.59" y="146.80" font-size="20.6" font-weight="normal" fill="#595959" textLength="93.23" lengthAdjust="spacingAndGlyphs">Tameside</text>
<text x="194.64" y="178.00" font-size="20.6" font-weight="normal" fill="#595959" textLength="90.38" lengthAdjust="spacingAndGlyphs">Rochdale</text>
<text x="522.00" y="178.00" font-size="20.6" font-weight="normal" fill="#595959" textLength="111.55" lengthAdjust="spacingAndGlyphs">Warrington</text>
<text x="846.61" y="178.00" font-size="20.6" font-weight="normal" fill="#595959" textLength="77.31" lengthAdjust="spacingAndGlyphs">England</text>
</svg></body></html>
